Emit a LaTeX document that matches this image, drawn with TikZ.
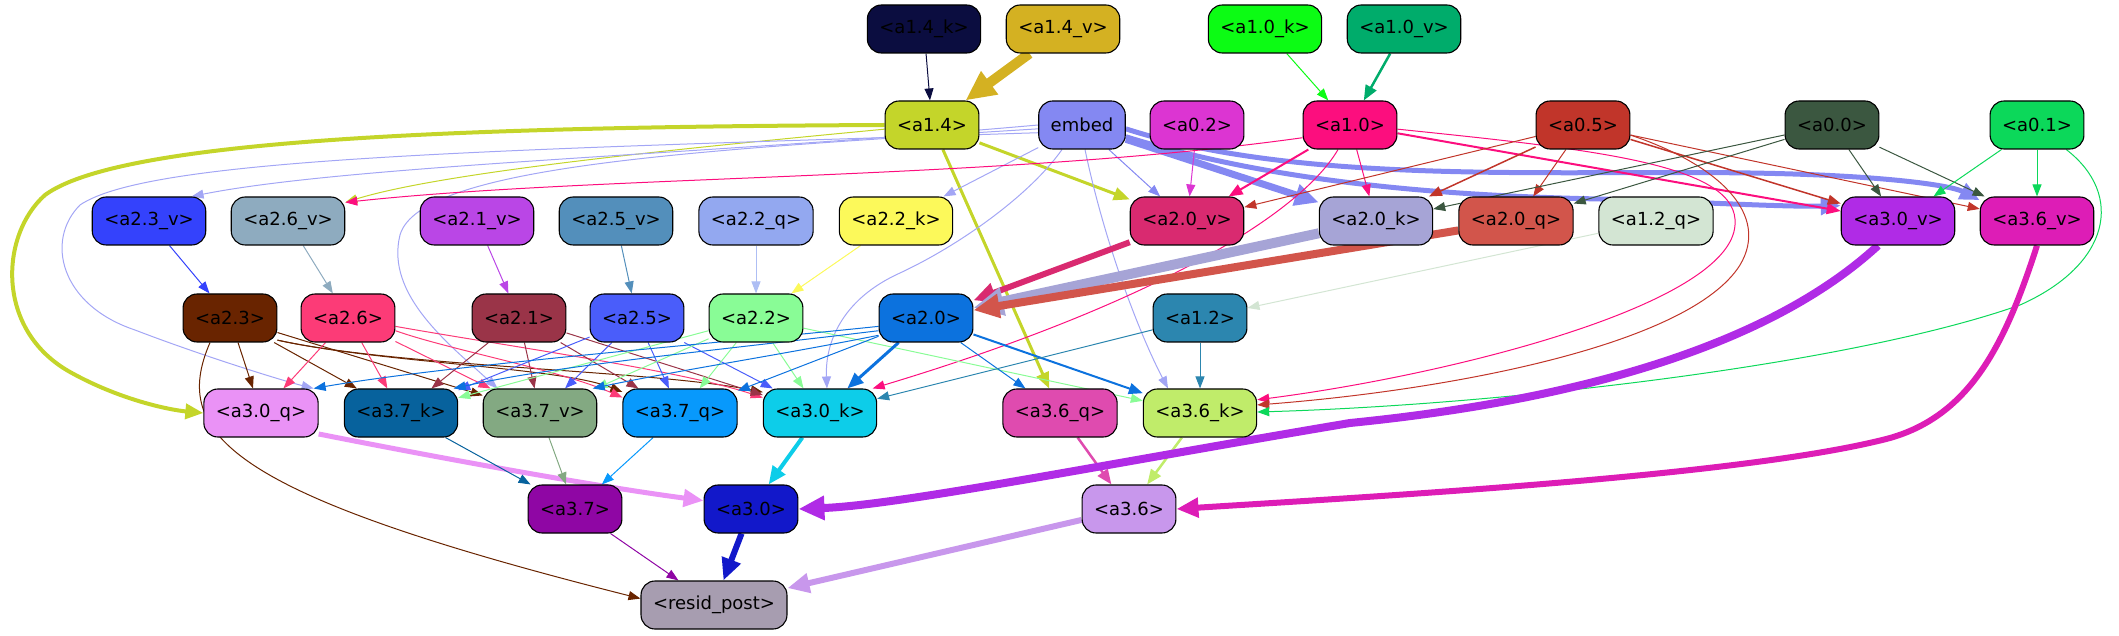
\documentclass[tikz,border=0pt]{standalone}
\usepackage{fontspec}
\setmainfont{DejaVu Sans}
\usetikzlibrary{arrows.meta}
\pgfdeclarelayer{bg}
\pgfsetlayers{bg,main}
\newcommand\ndfont{\fontsize{18pt}{21pt}\selectfont}
\definecolor{c14k}{HTML}{0B0D40}
\definecolor{c14v}{HTML}{D4B122}
\definecolor{c10k}{HTML}{0CFC14}
\definecolor{c10v}{HTML}{00AC6B}
\definecolor{c14}{HTML}{C4D52A}
\definecolor{cemb}{HTML}{8488F2}
\definecolor{c02}{HTML}{DC35D2}
\definecolor{c10}{HTML}{FC0E7E}
\definecolor{c05}{HTML}{C1352A}
\definecolor{c00}{HTML}{3B5740}
\definecolor{c01}{HTML}{0CD85A}
\definecolor{c23v}{HTML}{3442FC}
\definecolor{c26v}{HTML}{8EABBF}
\definecolor{c21v}{HTML}{BA46E6}
\definecolor{c25v}{HTML}{538FBB}
\definecolor{c22q}{HTML}{93A8F0}
\definecolor{c22k}{HTML}{FCF95A}
\definecolor{c20v}{HTML}{D92A70}
\definecolor{c20k}{HTML}{A6A4D6}
\definecolor{c20q}{HTML}{D2554B}
\definecolor{c12q}{HTML}{D3E5D3}
\definecolor{c30v}{HTML}{B02BE6}
\definecolor{c36v}{HTML}{DD1DB6}
\definecolor{c23}{HTML}{692400}
\definecolor{c26}{HTML}{FC3B77}
\definecolor{c21}{HTML}{9A3448}
\definecolor{c25}{HTML}{4A5DFA}
\definecolor{c22}{HTML}{89FC96}
\definecolor{c20}{HTML}{0C72DE}
\definecolor{c12}{HTML}{2C86AF}
\definecolor{c30q}{HTML}{EA92F6}
\definecolor{c37k}{HTML}{07629D}
\definecolor{c37v}{HTML}{83A982}
\definecolor{c37q}{HTML}{0899FC}
\definecolor{c30k}{HTML}{0DCDE9}
\definecolor{c36q}{HTML}{DF4BAF}
\definecolor{c36k}{HTML}{C0EC6A}
\definecolor{c37}{HTML}{8F06A4}
\definecolor{c30}{HTML}{1218CA}
\definecolor{c36}{HTML}{C897EC}
\definecolor{cres}{HTML}{A79DB0}
\tikzset{
  nd/.style={draw=black, line width=1.1pt, rounded corners=14pt, minimum height=48pt,
    inner xsep=12pt, inner ysep=2pt, font=\ndfont, text=black},
  ed/.style={line width=#1, -{Triangle[length=10pt 2, width=7pt 2]}},
  ed/.default=1pt,
}
\begin{document}
\begin{tikzpicture}[x=1pt,y=1pt]
\useasboundingbox (0,0) rectangle (2119,635);
% row 1
\node[nd, fill=c14k] (a14k) at (924,606) {<a1.4\_k>};
\node[nd, fill=c14v] (a14v) at (1063,606) {<a1.4\_v>};
\node[nd, fill=c10k] (a10k) at (1265,606) {<a1.0\_k>};
\node[nd, fill=c10v] (a10v) at (1404,606) {<a1.0\_v>};
% row 2
\node[nd, fill=c14] (a14) at (932,510) {<a1.4>};
\node[nd, fill=cemb] (embed) at (1082,510) {embed};
\node[nd, fill=c02] (a02) at (1197,510) {<a0.2>};
\node[nd, fill=c10] (a10) at (1350,510) {<a1.0>};
\node[nd, fill=c05] (a05) at (1583,510) {<a0.5>};
\node[nd, fill=c00] (a00) at (1832,510) {<a0.0>};
\node[nd, fill=c01] (a01) at (2037,510) {<a0.1>};
% row 3
\node[nd, fill=c23v] (a23v) at (149,414) {<a2.3\_v>};
\node[nd, fill=c26v] (a26v) at (288,414) {<a2.6\_v>};
\node[nd, fill=c21v] (a21v) at (477,414) {<a2.1\_v>};
\node[nd, fill=c25v] (a25v) at (616,414) {<a2.5\_v>};
\node[nd, fill=c22q] (a22q) at (756,414) {<a2.2\_q>};
\node[nd, fill=c22k] (a22k) at (896,414) {<a2.2\_k>};
\node[nd, fill=c20v] (a20v) at (1187,414) {<a2.0\_v>};
\node[nd, fill=c20k] (a20k) at (1376,414) {<a2.0\_k>};
\node[nd, fill=c20q] (a20q) at (1516,414) {<a2.0\_q>};
\node[nd, fill=c12q] (a12q) at (1656,414) {<a1.2\_q>};
\node[nd, fill=c30v] (a30v) at (1898,414) {<a3.0\_v>};
\node[nd, fill=c36v] (a36v) at (2037,414) {<a3.6\_v>};
% row 4
\node[nd, fill=c23] (a23) at (230,317) {<a2.3>};
\node[nd, fill=c26] (a26) at (348,317) {<a2.6>};
\node[nd, fill=c21] (a21) at (519,317) {<a2.1>};
\node[nd, fill=c25] (a25) at (637,317) {<a2.5>};
\node[nd, fill=c22] (a22) at (756,317) {<a2.2>};
\node[nd, fill=c20] (a20) at (926,317) {<a2.0>};
\node[nd, fill=c12] (a12) at (1200,317) {<a1.2>};
% row 5
\node[nd, fill=c30q] (a30q) at (261,222) {<a3.0\_q>};
\node[nd, fill=c37k] (a37k) at (401,222) {<a3.7\_k>};
\node[nd, fill=c37v] (a37v) at (540,222) {<a3.7\_v>};
\node[nd, fill=c37q] (a37q) at (680,222) {<a3.7\_q>};
\node[nd, fill=c30k] (a30k) at (820,222) {<a3.0\_k>};
\node[nd, fill=c36q] (a36q) at (1060,222) {<a3.6\_q>};
\node[nd, fill=c36k] (a36k) at (1200,222) {<a3.6\_k>};
% row 6
\node[nd, fill=c37] (a37) at (575,126) {<a3.7>};
\node[nd, fill=c30] (a30) at (751,126) {<a3.0>};
\node[nd, fill=c36] (a36) at (1129,126) {<a3.6>};
% row 7
\node[nd, fill=cres] (resid) at (714,30) {<resid\_post>};

\begin{pgfonlayer}{bg}
% row 1
\draw[ed, c14k] (a14k) -- (a14);
\draw[ed=10pt, c14v] (a14v) -- (a14);
\draw[ed, c10k] (a10k) -- (a10);
\draw[ed=2.5pt, c10v] (a10v) -- (a10);
% a1.4
\draw[ed=4pt, c14] (a14.west) .. controls (450,508) and (120,495) .. (45,440) .. controls (0,400) and (-5,305) .. (70,263) .. controls (120,235) and (170,225) .. (a30q.west);
\draw[ed, c14] (a14.185) .. controls (720,490) and (450,465) .. (a26v.18);
\draw[ed=3pt, c14] (a14) -- (a20v);
\draw[ed=3pt, c14] (a14) -- (a36q);
% embed
\draw[ed, cemb!75!white] (embed.west) .. controls (700,480) and (350,470) .. (a23v.30);
\draw[ed, cemb!75!white] (embed.190) .. controls (500,485) and (150,478) .. (80,430) .. controls (45,395) and (60,330) .. (135,305) .. controls (200,280) and (280,255) .. (a30q.25);
\draw[ed, cemb!75!white] (embed.185) .. controls (700,485) and (420,470) .. (400,400) .. controls (385,340) and (450,290) .. (a37v.150);
\draw[ed, cemb!75!white] (embed) -- (a22k);
\draw[ed, cemb] (embed) -- (a20v);
\draw[ed=7pt, cemb] (embed) -- (a20k);
\draw[ed=5pt, cemb] (embed.-15) .. controls (1250,460) and (1400,440) .. (1600,436) .. controls (1700,433) and (1780,428) .. (a30v.165);
\draw[ed=5pt, cemb] (embed.-5) .. controls (1300,450) and (1550,465) .. (1750,462) .. controls (1880,460) and (1950,450) .. (a36v.160);
\draw[ed, cemb!75!white] ([xshift=-20pt]embed.south) .. controls (1030,440) and (960,390) .. (900,362) .. controls (840,335) and (825,290) .. ([xshift=7pt]a30k.north);
\draw[ed, cemb!75!white] ([xshift=3pt]embed.south) .. controls (1105,390) and (1140,300) .. ([xshift=-32pt]a36k.north);
% a0.2
\draw[ed, c02] (a02) -- (a20v);
% a1.0
\draw[ed, c10] (a10.195) .. controls (1000,455) and (600,460) .. (a26v.18);
\draw[ed=2pt, c10] (a10) -- (a20v);
\draw[ed, c10] (a10) -- (a20k);
\draw[ed, c10] ([xshift=-12pt]a10.south) .. controls (1300,420) and (1150,330) .. (a30k.25);
\draw[ed=2pt, c10] (a10) -- (a30v);
\draw[ed, c10] (a10.-5) .. controls (1600,485) and (1740,470) .. (1735,410) .. controls (1730,330) and (1450,260) .. (a36k.13);
% a0.5
\draw[ed, c05] (a05) -- (a20v);
\draw[ed=1.5pt, c05] (a05) -- (a20k);
\draw[ed, c05] (a05) -- (a20q);
\draw[ed=1.5pt, c05] (a05) -- (a30v);
\draw[ed, c05] (a05) -- (a36v);
\draw[ed, c05] (a05.-12) .. controls (1720,470) and (1770,420) .. (1740,370) .. controls (1690,290) and (1450,245) .. (a36k.8);
% a0.0
\draw[ed, c00] (a00) -- (a20k);
\draw[ed, c00] (a00) -- (a20q);
\draw[ed, c00] (a00) -- (a30v);
\draw[ed, c00] (a00) -- (a36v);
% a0.1
\draw[ed, c01] (a01) -- (a30v);
\draw[ed, c01] (a01) -- (a36v);
\draw[ed, c01] (a01.-40) .. controls (2125,440) and (2110,370) .. (2020,330) .. controls (1850,270) and (1500,230) .. (a36k.1);
% row 3 -> row 4
\draw[ed, c23v] (a23v) -- (a23);
\draw[ed, c26v] (a26v) -- (a26);
\draw[ed, c21v] (a21v) -- (a21);
\draw[ed, c25v] (a25v) -- (a25);
\draw[ed, c22q!75!white] (a22q) -- (a22);
\draw[ed, c22k] (a22k) -- (a22);
\draw[ed=6pt, c20v] (a20v) -- (a20);
\draw[ed=10pt, c20k] (a20k) -- (a20);
\draw[ed=8pt, c20q] (a20q) -- (a20);
\draw[ed, c12q] (a12q) -- (a12);
% a2.3
\draw[ed, c23] (a23) -- (a30q);
\draw[ed, c23] (a23) -- (a37k);
\draw[ed, c23] (a23) -- (a37v);
\draw[ed, c23] (a23.-25) .. controls (380,272) and (560,268) .. (a37q.160);
\draw[ed, c23] (a23.-25) .. controls (400,268) and (650,265) .. (a30k.160);
\draw[ed, c23] ([xshift=-20pt]a23.south) .. controls (170,200) and (230,140) .. (resid.175);
% a2.6
\draw[ed, c26] (a26) -- (a30q);
\draw[ed, c26] (a26) -- (a37k);
\draw[ed, c26] (a26) -- (a37v);
\draw[ed, c26] (a26.-15) .. controls (450,285) and (560,265) .. (a37q.165);
\draw[ed, c26] (a26.-10) .. controls (500,290) and (680,265) .. (a30k.165);
% a2.1
\draw[ed, c21] (a21) -- (a37k);
\draw[ed, c21] (a21) -- (a37v);
\draw[ed, c21] (a21) -- (a37q);
\draw[ed, c21] (a21) -- (a30k);
% a2.5
\draw[ed, c25] (a25) -- (a37k);
\draw[ed, c25] (a25) -- (a37v);
\draw[ed, c25] (a25) -- (a37q);
\draw[ed, c25] (a25) -- (a30k);
% a2.2
\draw[ed, c22] (a22) -- (a37k);
\draw[ed, c22] (a22) -- (a37v);
\draw[ed, c22] (a22) -- (a37q);
\draw[ed, c22] (a22) -- (a30k);
\draw[ed, c22] (a22) -- (a36k);
% a2.0
\draw[ed, c20] (a20.190) .. controls (700,290) and (450,270) .. (a30q.25);
\draw[ed, c20] (a20.195) .. controls (720,285) and (560,270) .. (a37k.25);
\draw[ed, c20] (a20.200) .. controls (780,280) and (680,265) .. (a37v.25);
\draw[ed, c20] (a20) -- (a37q);
\draw[ed=3pt, c20] (a20) -- (a30k);
\draw[ed, c20] (a20) -- (a36q);
\draw[ed=2pt, c20] (a20) -- (a36k);
% a1.2
\draw[ed, c12] (a12) -- (a30k);
\draw[ed, c12] (a12) -- (a36k);
% row 5 -> row 6
\draw[ed=5pt, c30q] (a30q.-20) .. controls (450,175) and (600,148) .. (a30.170);
\draw[ed, c37k] (a37k) -- (a37);
\draw[ed, c37v] (a37v) -- (a37);
\draw[ed, c37q] (a37q) -- (a37);
\draw[ed=4pt, c30k] (a30k) -- (a30);
\draw[ed=2.5pt, c36q] (a36q) -- (a36);
\draw[ed=2.5pt, c36k] (a36k) -- (a36);
\draw[ed=8pt, c30v] ([xshift=-20pt]a30v.south) .. controls (1770,290) and (1580,235) .. (1350,212) .. controls (1100,170) and (900,130) .. (a30.east);
\draw[ed=6pt, c36v] (a36v.south) .. controls (2005,290) and (1970,220) .. (1890,197) .. controls (1750,160) and (1400,140) .. (a36.east);
% row 6 -> row 7
\draw[ed, c37] (a37) -- (resid);
\draw[ed=6pt, c30] (a30) -- (resid);
\draw[ed=6pt, c36] (a36) -- (resid);
\end{pgfonlayer}
\end{tikzpicture}
\end{document}
